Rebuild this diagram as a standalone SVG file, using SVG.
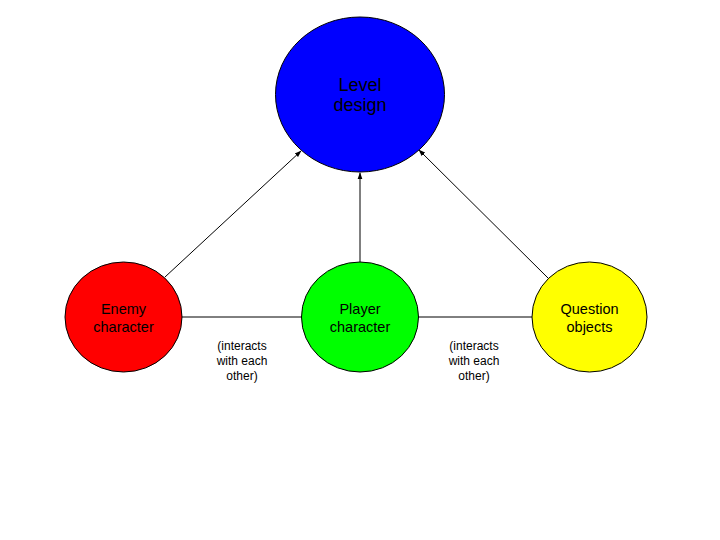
<svg xmlns="http://www.w3.org/2000/svg" width="720" height="540" viewBox="0 0 720 540">
<style>
.node{stroke:#000;stroke-width:1}
.lbl{font-family:"Liberation Sans",Arial,sans-serif;font-size:14.5px;fill:#000;text-anchor:middle}
.big{font-size:18px}
.note{font-family:"Liberation Sans",Arial,sans-serif;font-size:12px;fill:#000;text-anchor:middle}
.edge{stroke:#000;stroke-width:1;fill:none}
</style>
<defs>
<marker id="arr" viewBox="0 0 10 10" refX="9" refY="5" markerWidth="7" markerHeight="7" orient="auto" markerUnits="userSpaceOnUse">
<path d="M0,1.5 L10,5 L0,8.5 Z" fill="#000"/>
</marker>
</defs>
<rect width="720" height="540" fill="#fff"/>
<g id="connectors">
<line class="edge" x1="182" y1="317" x2="302" y2="317"/>
<line class="edge" x1="418" y1="317" x2="532" y2="317"/>
<line class="edge" x1="165" y1="277" x2="301" y2="151" marker-end="url(#arr)"/>
<line class="edge" x1="360" y1="262" x2="360" y2="173" marker-end="url(#arr)"/>
<line class="edge" x1="548" y1="278" x2="419" y2="150" marker-end="url(#arr)"/>
</g>
<g id="level">
<ellipse class="node" cx="360" cy="94.5" rx="84.5" ry="77.5" fill="#0000ff"/>
<text class="lbl big" x="360" y="91">Level</text>
<text class="lbl big" x="360" y="111">design</text>
</g>
<g id="enemy">
<ellipse class="node" cx="123.5" cy="317" rx="58.5" ry="55" fill="#ff0000"/>
<text class="lbl" x="123.5" y="314">Enemy</text>
<text class="lbl" x="123.5" y="332">character</text>
</g>
<g id="player">
<ellipse class="node" cx="360" cy="317" rx="58.5" ry="55" fill="#00ff00"/>
<text class="lbl" x="360" y="314">Player</text>
<text class="lbl" x="360" y="332">character</text>
</g>
<g id="question">
<ellipse class="node" cx="589.5" cy="317" rx="57.5" ry="55" fill="#ffff00"/>
<text class="lbl" x="589.5" y="314">Question</text>
<text class="lbl" x="589.5" y="332">objects</text>
</g>
<g id="note1">
<text class="note" x="242" y="350">(interacts</text>
<text class="note" x="242" y="365">with each</text>
<text class="note" x="242" y="380">other)</text>
</g>
<g id="note2">
<text class="note" x="474" y="350">(interacts</text>
<text class="note" x="474" y="365">with each</text>
<text class="note" x="474" y="380">other)</text>
</g>
</svg>
